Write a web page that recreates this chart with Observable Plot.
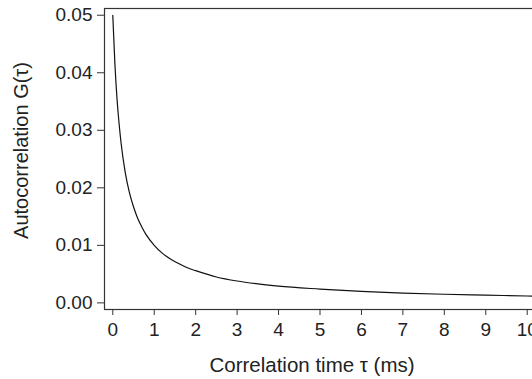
<!DOCTYPE html>
<html>
<head>
<meta charset="utf-8">
<script src="https://cdn.jsdelivr.net/npm/d3@7"></script>
<script src="https://cdn.jsdelivr.net/npm/@observablehq/plot@0.6"></script>
<style>
  html, body { margin: 0; padding: 0; background: #fff; }
  #chart svg { overflow: hidden; }
</style>
</head>
<body>
<div id="chart"></div>
<script>
// Correlation time τ (ms) and autocorrelation G(τ)
const tau = [0, 0.05, 0.1, 0.15, 0.2, 0.3, 0.4, 0.5, 0.6, 0.7, 0.8, 1.0, 1.2, 1.4, 1.6, 1.8, 2.0, 2.5, 3.0, 3.5, 4.0, 5.0, 6.0, 7.0, 8.0, 9.0, 10.0, 10.4];
const G   = [0.0500, 0.0417, 0.0357, 0.0313, 0.0278, 0.0227, 0.0192, 0.0167, 0.0147, 0.0132, 0.0119, 0.0100, 0.0086, 0.0076, 0.0068, 0.0061, 0.0056, 0.0045, 0.0038, 0.0033, 0.0029, 0.0024, 0.0020, 0.0017, 0.0015, 0.00135, 0.0012, 0.00116];
const xTicks = [0, 1, 2, 3, 4, 5, 6, 7, 8, 9, 10];
const yTicks = [0, 0.01, 0.02, 0.03, 0.04, 0.05];
const xLabel = "Correlation time τ (ms)";
const yLabel = "Autocorrelation G(τ)";

const data = tau.map((t, i) => ({tau: t, g: G[i]}));

const chart = Plot.plot({
  width: 532,
  height: 379,
  marginLeft: 104,
  marginRight: -3,
  marginTop: 8,
  marginBottom: 70,
  style: {fontFamily: "'Liberation Sans', Arial, sans-serif", fontSize: "19px", color: "#222", background: "#fff"},
  x: {domain: [-0.2, 10.2]},
  y: {domain: [-0.00115, 0.05117]},
  marks: [
    Plot.frame({stroke: "#333", strokeWidth: 1.2}),
    Plot.axisX({ticks: xTicks, tickSize: 6, tickPadding: 7, tickFormat: d3.format("d"),
      label: null, stroke: "#333"}),
    Plot.axisY({ticks: yTicks, tickSize: 7, tickPadding: 5, tickFormat: d3.format(".2f"),
      label: null, stroke: "#333"}),
    Plot.text([xLabel], {frameAnchor: "bottom", textAnchor: "middle", lineAnchor: "top", dx: -8, dy: 48,
      fontSize: 20.5, fill: "#222"}),
    Plot.text([yLabel], {frameAnchor: "left", textAnchor: "middle", lineAnchor: "top", rotate: -90, dx: -91, dy: -8.5,
      fontSize: 20, fill: "#222"}),
    Plot.line(data, {x: "tau", y: "g", curve: "monotone-x", stroke: "#111", strokeWidth: 1.2, clip: true})
  ]
});
document.getElementById("chart").appendChild(chart);
</script>
</body>
</html>
